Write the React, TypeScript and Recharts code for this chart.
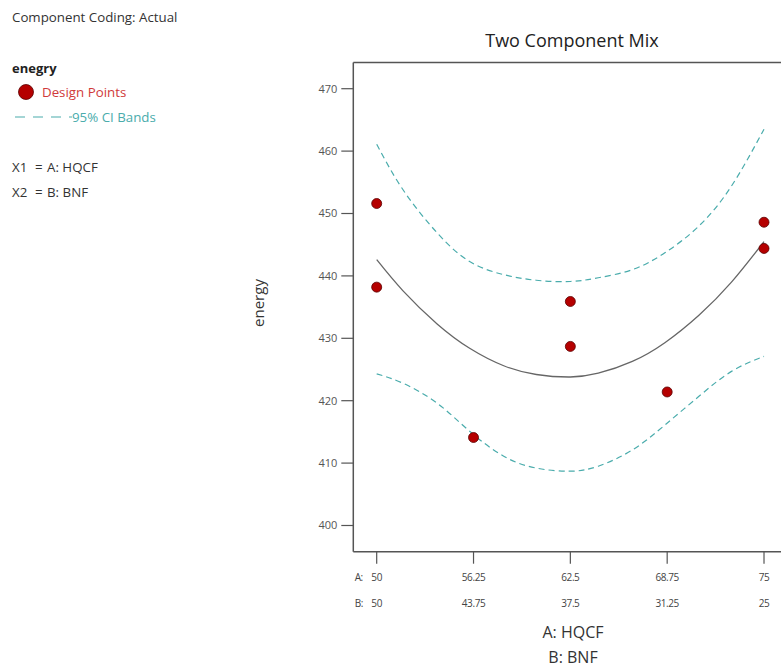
import React from "react";
import { ComposedChart, XAxis, YAxis, Line, Scatter, ReferenceLine } from "recharts";

// Tick values / labels
const aTicks = [50, 56.25, 62.5, 68.75, 75];
const aTickLabels = ["50", "56.25", "62.5", "68.75", "75"];
const bTickLabels = ["50", "43.75", "37.5", "31.25", "25"];
const yTicks = [400, 410, 420, 430, 440, 450, 460, 470];

// Design points (A: HQCF, energy)
const designA = [50, 50, 56.25, 62.5, 62.5, 68.75, 75, 75];
const designY = [451.6, 438.2, 414.1, 435.9, 428.7, 421.4, 448.6, 444.4];

// Fitted curve and 95% CI bands
const curveA = [50, 51.7, 53.9, 56.0, 58.2, 60.3, 62.5, 64.3, 66.5, 68.6, 70.8, 72.9, 75];
const fitY = [442.6, 437.6, 432.3, 428.4, 425.6, 424.2, 423.8, 424.4, 426.3, 429.3, 433.7, 439.0, 445.5];
const upperY = [461.1, 453.8, 446.9, 442.3, 440.2, 439.3, 439.1, 439.7, 441.0, 443.7, 448.0, 454.4, 463.5];
const lowerY = [424.3, 422.8, 419.6, 415.1, 411.1, 409.2, 408.7, 409.5, 412.1, 416.1, 420.7, 424.7, 427.1];

const yMin = 395.8;
const yMax = 474.2;

const designData = designA.map((a, i) => ({ a, y: designY[i] }));
const fitData = curveA.map((a, i) => ({ a, y: fitY[i] }));
const upperData = curveA.map((a, i) => ({ a, y: upperY[i] }));
const lowerData = curveA.map((a, i) => ({ a, y: lowerY[i] }));

const FONT = "'Open Sans', 'Noto Sans', sans-serif";
const AXIS = "#555";
const TEAL = "#4aacac";
const RED = "#b50000";

const XTick = (props: any) => {
  const { x, y, payload } = props;
  const i = aTicks.indexOf(payload.value);
  return (
    <g fontFamily={FONT} fontSize={10} fill="#444" letterSpacing={-0.4}>
      {i === 0 && (
        <>
          <text x={x - 22} y={y + 17} textAnchor="start" fill="#444">A:</text>
          <text x={x - 22} y={y + 43} textAnchor="start" fill="#444">B:</text>
        </>
      )}
      <text x={x} y={y + 17} textAnchor="middle" fill="#444">{aTickLabels[i]}</text>
      <text x={x} y={y + 43} textAnchor="middle" fill="#444">{bTickLabels[i]}</text>
    </g>
  );
};

const Dot = (props: any) => {
  const { cx, cy } = props;
  return <circle cx={cx} cy={cy} r={5} fill={RED} stroke="#5a0000" strokeWidth={0.8} />;
};

export default function App() {
  return (
    <div style={{ position: "fixed", left: 0, top: 0, width: 781, height: 668, overflow: "hidden", background: "#fff" }}>
      <ComposedChart
        width={800}
        height={668}
        margin={{ top: 62.5, right: 12.6, bottom: 0, left: 0 }}
      >
        <XAxis
          type="number"
          dataKey="a"
          domain={[48.49, 76.51]}
          ticks={aTicks}
          height={116.3}
          tickSize={12}
          tickMargin={0}
          tick={<XTick />}
          tickLine={{ stroke: AXIS, strokeWidth: 1.2 }}
          axisLine={{ stroke: AXIS, strokeWidth: 1.5 }}
          interval={0}
        />
        <YAxis
          type="number"
          domain={[yMin, yMax]}
          ticks={yTicks}
          width={353.3}
          tickSize={12}
          tickMargin={4}
          tick={{ fontSize: 11, fill: "#555", fontFamily: FONT }}
          tickLine={{ stroke: AXIS, strokeWidth: 1.2 }}
          axisLine={{ stroke: AXIS, strokeWidth: 1.5 }}
          interval={0}
        />
        <ReferenceLine y={yMax} stroke={AXIS} strokeWidth={1.5} ifOverflow="visible" />
        <Line data={upperData} dataKey="y" type="natural" stroke={TEAL} strokeWidth={1.2} strokeDasharray="6 4" dot={false} isAnimationActive={false} />
        <Line data={lowerData} dataKey="y" type="natural" stroke={TEAL} strokeWidth={1.2} strokeDasharray="6 4" dot={false} isAnimationActive={false} />
        <Line data={fitData} dataKey="y" type="natural" stroke="#666" strokeWidth={1.3} dot={false} isAnimationActive={false} />
        <Scatter data={designData} dataKey="y" shape={<Dot />} isAnimationActive={false} />
      </ComposedChart>
      <svg width={781} height={668} style={{ position: "absolute", left: 0, top: 0, pointerEvents: "none" }} fontFamily={FONT}>
        <text x={12} y={17} dominantBaseline="central" fontSize={13.3} fill="#333">Component Coding: Actual</text>
        <text x={12} y={68} dominantBaseline="central" fontSize={13} fontWeight="bold" fill="#222">enegry</text>
        <circle cx={26} cy={92} r={7.5} fill={RED} stroke="#5a0000" strokeWidth={0.8} />
        <text x={42} y={92} dominantBaseline="central" fontSize={13.3} fill="#d03a3a">Design Points</text>
        <line x1={15} y1={117} x2={72} y2={117} stroke={TEAL} strokeWidth={1.2} strokeDasharray="10 8" />
        <text x={72} y={117} dominantBaseline="central" fontSize={13.3} fill={TEAL}>95% CI Bands</text>
        <text x={12} y={167} dominantBaseline="central" fontSize={13.3} fill="#333">
          X1<tspan x={35}>=</tspan><tspan x={47}>A: HQCF</tspan>
        </text>
        <text x={12} y={192} dominantBaseline="central" fontSize={13.3} fill="#333">
          X2<tspan x={35}>=</tspan><tspan x={47}>B: BNF</tspan>
        </text>
        <text x={572} y={40} dominantBaseline="central" textAnchor="middle" fontSize={18} fill="#222">Two Component Mix</text>
        <text x={0} y={0} transform="translate(258,303) rotate(-90)" dominantBaseline="central" textAnchor="middle" fontSize={15} fill="#333">energy</text>
        <text x={573} y={632} dominantBaseline="central" textAnchor="middle" fontSize={16} fill="#333">A: HQCF</text>
        <text x={573} y={657} dominantBaseline="central" textAnchor="middle" fontSize={16} fill="#333">B: BNF</text>
      </svg>
    </div>
  );
}
